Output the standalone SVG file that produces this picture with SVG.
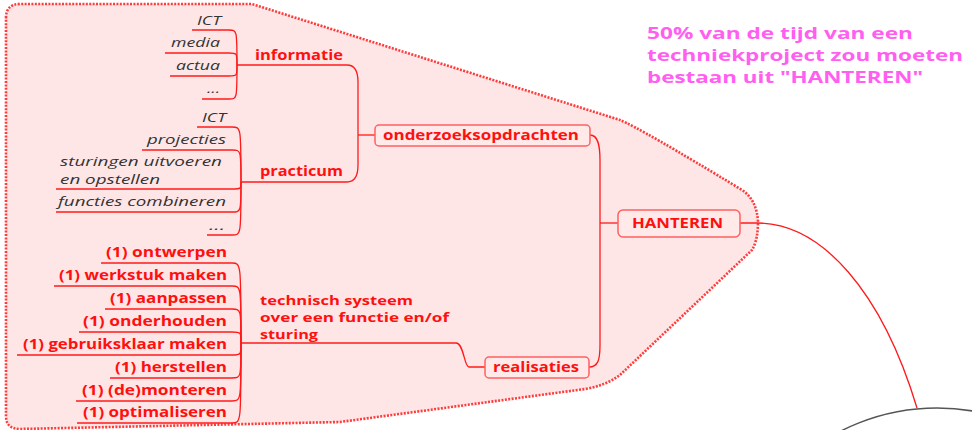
<svg xmlns="http://www.w3.org/2000/svg" width="972" height="430" viewBox="0 0 972 430">
  <style>
    .lbl { font-family: "Open Sans", "DejaVu Sans", sans-serif; font-weight: bold; font-size: 13.5px; fill: #ff1010; }
    .lbl-ml { font-size: 12.6px; }
    .sub { font-family: "Open Sans", "DejaVu Sans", sans-serif; font-style: italic; font-size: 13.5px; fill: #333333; }
    .note { font-family: "Open Sans", "DejaVu Sans", sans-serif; font-weight: bold; font-size: 15.5px; fill: #ff5ef0; }
    .box { fill: #ffe9e9; stroke: #ff6060; stroke-width: 1.5; }
    .wire { fill: none; stroke: #ff1a1a; stroke-width: 1.3; }
  </style>

  <!-- boundary around the HANTEREN branch -->
  <path id="boundary" d="M 6 18 Q 6 4 20 4 L 252 4 L 620 120 Q 640 128 742 190 Q 757 200 758 222 Q 758 240 752 250 L 620 375 Q 605 386 585 389 L 340 422 L 20 429 Q 6 429 6 416 Z"
        fill="#ffe6e6" stroke="#ff3b3b" stroke-width="2.6" stroke-dasharray="2 1.4"/>

  <!-- large central topic, mostly out of frame -->
  <circle id="central" cx="937" cy="620" r="212" fill="#ffffff" stroke="#555555" stroke-width="1.5"/>

  <g id="connectors">
    <!-- HANTEREN to central topic -->
    <path class="wire" d="M 740 223 L 757 223 C 822 223 882 292 917 408"/>
    <!-- HANTEREN bracket -->
    <path class="wire" d="M 618 223 H 600"/>
    <path class="wire" d="M 590 135 C 598 135 600 145 600 160 V 345 C 600 360 598 367 589 367"/>
    <!-- onderzoeksopdrachten bracket -->
    <path class="wire" d="M 375 135 H 358"/>
    <path class="wire" d="M 237 65 H 347 C 355 65 358 72 358 82 V 165 C 358 176 355 182 347 182 H 241"/>
    <!-- realisaties to technisch systeem -->
    <path class="wire" d="M 485 367 H 469 C 464 367 464 343 456 343 H 241"/>
    <!-- informatie children -->
    <path class="wire" d="M 237 65 C 237 30 237 30 229 30 H 192"/>
    <path class="wire" d="M 237 65 C 237 53 237 53 229 53 H 165"/>
    <path class="wire" d="M 237 65 C 237 76 237 76 229 76 H 170"/>
    <path class="wire" d="M 237 65 C 237 99 237 99 229 99 H 202"/>
    <!-- practicum children -->
    <path class="wire" d="M 241 182 C 241 127 241 127 232 127 H 197"/>
    <path class="wire" d="M 241 182 C 241 150 241 150 232 150 H 142"/>
    <path class="wire" d="M 241 182 C 241 189 241 189 232 189 H 56"/>
    <path class="wire" d="M 241 182 C 241 212 241 212 232 212 H 56"/>
    <path class="wire" d="M 241 182 C 241 235 241 235 232 235 H 207"/>
    <!-- technisch systeem children -->
    <path class="wire" d="M 241 343 C 241 263 241 263 232 263 H 101"/>
    <path class="wire" d="M 241 343 C 241 286 241 286 232 286 H 54"/>
    <path class="wire" d="M 241 343 C 241 309 241 309 232 309 H 105"/>
    <path class="wire" d="M 241 343 C 241 332 241 332 232 332 H 79"/>
    <path class="wire" d="M 241 343 C 241 355 241 355 232 355 H 17"/>
    <path class="wire" d="M 241 343 C 241 378 241 378 232 378 H 110"/>
    <path class="wire" d="M 241 343 C 241 401 241 401 232 401 H 76"/>
    <path class="wire" d="M 241 343 C 241 423 241 423 232 423 H 77"/>
  </g>

  <g id="hanteren">
    <rect class="box" x="618" y="210" width="122" height="27" rx="5"/>
    <text class="lbl" x="632" y="228" textLength="91" lengthAdjust="spacingAndGlyphs">HANTEREN</text>
  </g>
  <g id="onderzoeksopdrachten">
    <rect class="box" x="375" y="125" width="215" height="21" rx="4"/>
    <text class="lbl" x="383" y="140" textLength="196" lengthAdjust="spacingAndGlyphs">onderzoeksopdrachten</text>
  </g>
  <g id="realisaties">
    <rect class="box" x="485" y="357" width="104" height="21" rx="4"/>
    <text class="lbl" x="493" y="372" textLength="86" lengthAdjust="spacingAndGlyphs">realisaties</text>
  </g>
  <g id="informatie">
    <text class="lbl" x="255" y="60" textLength="88" lengthAdjust="spacingAndGlyphs">informatie</text>
  </g>
  <g id="practicum">
    <text class="lbl" x="260" y="176" textLength="83" lengthAdjust="spacingAndGlyphs">practicum</text>
  </g>
  <g id="technisch-systeem">
    <text class="lbl lbl-ml" x="260" y="304.5" textLength="153" lengthAdjust="spacingAndGlyphs">technisch systeem</text>
    <text class="lbl lbl-ml" x="260" y="321.5" textLength="189" lengthAdjust="spacingAndGlyphs">over een functie en/of</text>
    <text class="lbl lbl-ml" x="260" y="338.5" textLength="58" lengthAdjust="spacingAndGlyphs">sturing</text>
  </g>

  <!-- informatie topics -->
  <g id="info-ict"><text class="sub" x="197" y="25" textLength="24" lengthAdjust="spacingAndGlyphs">ICT</text></g>
  <g id="info-media"><text class="sub" x="171" y="47" textLength="49" lengthAdjust="spacingAndGlyphs">media</text></g>
  <g id="info-actua"><text class="sub" x="176" y="70" textLength="44" lengthAdjust="spacingAndGlyphs">actua</text></g>
  <g id="info-more"><text class="sub" x="207" y="93" textLength="13" lengthAdjust="spacingAndGlyphs">...</text></g>

  <!-- practicum topics -->
  <g id="prac-ict"><text class="sub" x="202" y="122" textLength="24" lengthAdjust="spacingAndGlyphs">ICT</text></g>
  <g id="prac-projecties"><text class="sub" x="147" y="144" textLength="79" lengthAdjust="spacingAndGlyphs">projecties</text></g>
  <g id="prac-sturingen">
    <text class="sub" x="60" y="166" textLength="162" lengthAdjust="spacingAndGlyphs">sturingen uitvoeren</text>
    <text class="sub" x="60" y="184" textLength="100" lengthAdjust="spacingAndGlyphs">en opstellen</text>
  </g>
  <g id="prac-functies"><text class="sub" x="58" y="206" textLength="168" lengthAdjust="spacingAndGlyphs">functies combineren</text></g>
  <g id="prac-more"><text class="sub" x="209" y="230" textLength="16" lengthAdjust="spacingAndGlyphs">...</text></g>

  <!-- technisch systeem activities -->
  <g id="act-ontwerpen"><text class="lbl" x="106" y="257" textLength="121" lengthAdjust="spacingAndGlyphs">(1) ontwerpen</text></g>
  <g id="act-werkstuk"><text class="lbl" x="59" y="280" textLength="168" lengthAdjust="spacingAndGlyphs">(1) werkstuk maken</text></g>
  <g id="act-aanpassen"><text class="lbl" x="110" y="303" textLength="117" lengthAdjust="spacingAndGlyphs">(1) aanpassen</text></g>
  <g id="act-onderhouden"><text class="lbl" x="83" y="326" textLength="144" lengthAdjust="spacingAndGlyphs">(1) onderhouden</text></g>
  <g id="act-gebruiksklaar"><text class="lbl" x="23" y="349" textLength="204" lengthAdjust="spacingAndGlyphs">(1) gebruiksklaar maken</text></g>
  <g id="act-herstellen"><text class="lbl" x="115" y="372" textLength="112" lengthAdjust="spacingAndGlyphs">(1) herstellen</text></g>
  <g id="act-monteren"><text class="lbl" x="82" y="395" textLength="145" lengthAdjust="spacingAndGlyphs">(1) (de)monteren</text></g>
  <g id="act-optimaliseren"><text class="lbl" x="83" y="417" textLength="144" lengthAdjust="spacingAndGlyphs">(1) optimaliseren</text></g>

  <!-- note -->
  <g id="note">
    <text class="note" x="647" y="39" textLength="266" lengthAdjust="spacingAndGlyphs">50% van de tijd van een</text>
    <text class="note" x="647" y="61" textLength="316" lengthAdjust="spacingAndGlyphs">techniekproject zou moeten</text>
    <text class="note" x="647" y="83" textLength="276" lengthAdjust="spacingAndGlyphs">bestaan uit "HANTEREN"</text>
  </g>
</svg>
